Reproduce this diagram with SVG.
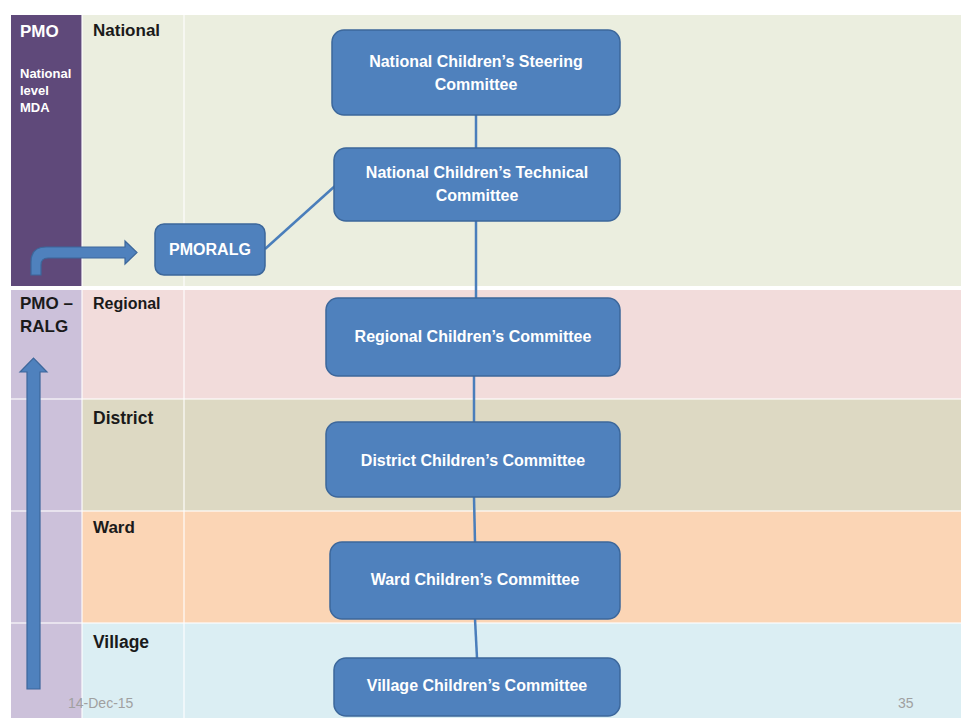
<svg xmlns="http://www.w3.org/2000/svg" width="961" height="718" viewBox="0 0 961 718">
<style>
.node rect{fill:#4f81bd;stroke:#3c679b;stroke-width:1.5}
.node text{fill:#fff;font-family:"Liberation Sans",Arial,sans-serif;font-weight:bold;font-size:16px;text-anchor:middle}
.lbl{font-family:"Liberation Sans",Arial,sans-serif;font-weight:bold;font-size:17px;fill:#1a1a1a}
.sm{font-family:"Liberation Sans",Arial,sans-serif;font-weight:bold;font-size:13px;fill:#fff}
.sep{stroke:#ffffff;stroke-opacity:0.55;stroke-width:2}
.conn line{stroke:#4a7ebb;stroke-width:2.5}
.foot{font-family:"Liberation Sans",Arial,sans-serif;font-size:14px;fill:#a0a0a0}
</style>
<rect width="961" height="718" fill="#ffffff"/>
<g id="bands">
<rect x="82" y="15" width="879" height="271" fill="#ebeedf"/>
<rect x="82" y="290" width="879" height="109" fill="#f2dcdb"/>
<rect x="82" y="399" width="879" height="112" fill="#ddd9c3"/>
<rect x="82" y="511" width="879" height="112" fill="#fbd5b5"/>
<rect x="82" y="623" width="879" height="95" fill="#dbeef3"/>
<rect x="11" y="15" width="71" height="271" fill="#5f497a"/>
<rect x="11" y="290" width="71" height="428" fill="#ccc1da"/>
<line class="sep" x1="184" y1="15" x2="184" y2="718"/>
<line class="sep" x1="82" y1="15" x2="82" y2="718"/>
<line class="sep" x1="11" y1="399" x2="961" y2="399"/>
<line class="sep" x1="11" y1="511" x2="961" y2="511"/>
<line class="sep" x1="11" y1="623" x2="961" y2="623"/>
</g>
<g id="labels">
<text x="20" y="37" class="lbl" style="fill:#fff">PMO</text>
<text x="20" y="78" class="sm">National</text>
<text x="20" y="95" class="sm">level</text>
<text x="20" y="112" class="sm">MDA</text>
<text x="93" y="36" class="lbl">National</text>
<text x="20" y="309" class="lbl">PMO –</text>
<text x="20" y="332" class="lbl">RALG</text>
<text x="93" y="309" class="lbl" style="font-size:16px">Regional</text>
<text x="93" y="424" class="lbl" style="font-size:17.5px">District</text>
<text x="93" y="533" class="lbl">Ward</text>
<text x="93" y="648" class="lbl" style="font-size:17.5px">Village</text>
<text x="68" y="708" class="foot">14-Dec-15</text>
<text x="898" y="708" class="foot">35</text>
</g>
<g id="arrows" fill="#4f81bd" stroke="#3c679b" stroke-width="1.2">
<path d="M31,275 V262 Q31,247 46,247 H125 V241 L137,252.5 L125,264 V258 H48 Q41,258 41,265 V275 Z"/>
<path d="M27,689 V372 H20 L33.5,358 L47,372 H40 V689 Z"/>
</g>
<g id="connectors" class="conn">
<line x1="476" y1="115" x2="476" y2="148"/>
<line x1="476" y1="221" x2="476" y2="298"/>
<line x1="474" y1="376" x2="474" y2="422"/>
<line x1="474" y1="497" x2="475" y2="542"/>
<line x1="475" y1="619" x2="477" y2="658"/>
<line x1="265" y1="249" x2="335" y2="186"/>
</g>
<g id="n-steering" class="node"><rect x="332" y="30" width="288" height="85" rx="12"/><text x="476" y="67">National Children’s Steering</text><text x="476" y="90">Committee</text></g>
<g id="n-technical" class="node"><rect x="334" y="148" width="286" height="73" rx="12"/><text x="477" y="178">National Children’s Technical</text><text x="477" y="201">Committee</text></g>
<g id="n-pmoralg" class="node"><rect x="155" y="224" width="110" height="51" rx="9"/><text x="210" y="255">PMORALG</text></g>
<g id="n-regional" class="node"><rect x="326" y="298" width="294" height="78" rx="12"/><text x="473" y="342">Regional Children’s Committee</text></g>
<g id="n-district" class="node"><rect x="326" y="422" width="294" height="75" rx="12"/><text x="473" y="466">District Children’s Committee</text></g>
<g id="n-ward" class="node"><rect x="330" y="542" width="290" height="77" rx="12"/><text x="475" y="585">Ward Children’s Committee</text></g>
<g id="n-village" class="node"><rect x="334" y="658" width="286" height="58" rx="12"/><text x="477" y="691">Village Children’s Committee</text></g>
</svg>
